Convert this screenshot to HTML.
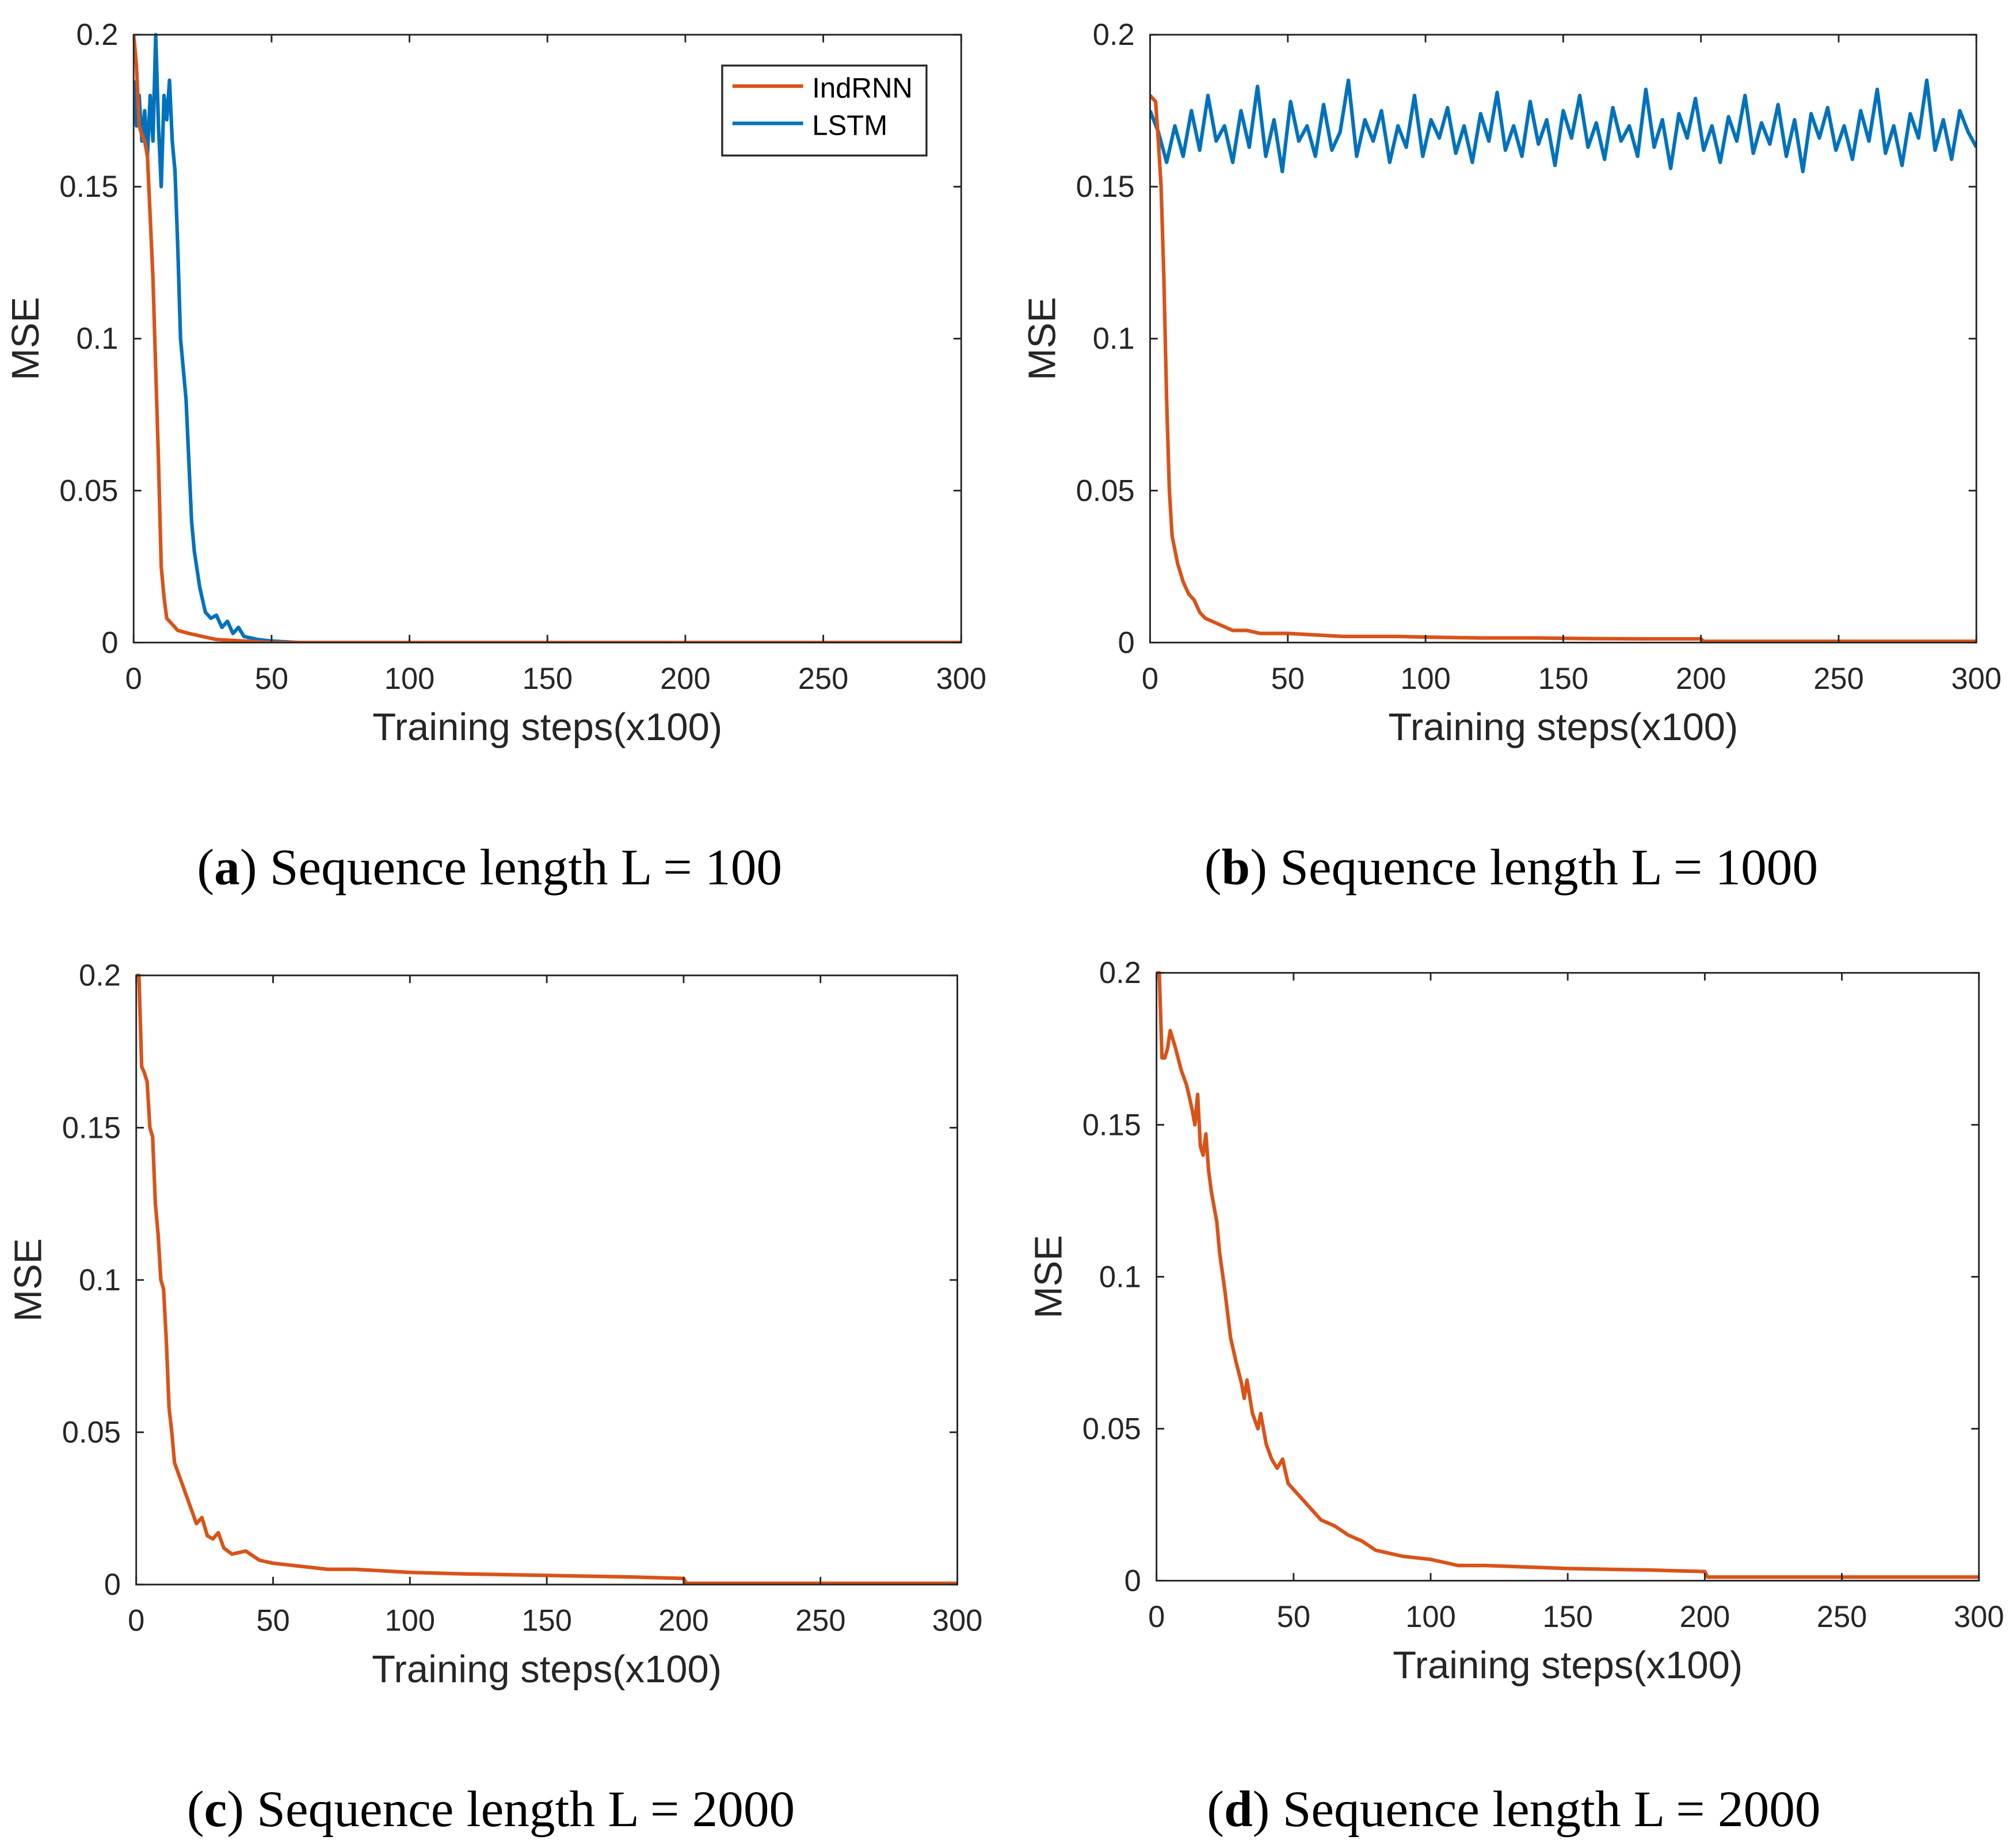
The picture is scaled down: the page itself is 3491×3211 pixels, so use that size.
<!DOCTYPE html>
<html><head><meta charset="utf-8"><style>
html,body{margin:0;padding:0;background:#fff;}
svg{display:block;}
.tick{font-family:"Liberation Sans",sans-serif;font-size:23.5px;fill:#262626;}
.ttl{font-family:"Liberation Sans",sans-serif;font-size:30px;fill:#262626;}
.cap{font-family:"Liberation Serif",serif;font-size:40px;fill:#000;}
</style></head><body>
<svg id="fig" width="3491" height="3211" viewBox="0 0 1563.4 1438" xmlns="http://www.w3.org/2000/svg"></svg>
<script>
// ---- data ----
const xTicks=[0,50,100,150,200,250,300];
const yTicks=[0,0.05,0.1,0.15,0.2];
const yTickLabels=["0","0.05","0.1","0.15","0.2"];
const aIndX=[0,1,2,3,4,5,6,7,8,9,10,11,12,14,16,20,25,30,40,50,300];
const aIndY=[0.2,0.19,0.17,0.167,0.165,0.16,0.14,0.12,0.09,0.06,0.025,0.015,0.008,0.006,0.004,0.003,0.002,0.001,0.0005,0,0];
const aLstmX=[0,1,2,3,4,5,6,7,8,9,10,11,12,13,14,15,16,17,18,19,20,21,22,24,26,28,30,32,34,36,38,40,45,50,60,300];
const aLstmY=[0.185,0.17,0.18,0.165,0.175,0.16,0.18,0.165,0.2,0.17,0.15,0.18,0.172,0.185,0.165,0.155,0.13,0.1,0.09,0.08,0.06,0.04,0.03,0.018,0.01,0.008,0.009,0.005,0.007,0.003,0.005,0.002,0.001,0.0005,0,0];
const bLstmY=[0.175,0.168,0.158,0.17,0.16,0.175,0.162,0.18,0.165,0.17,0.158,0.175,0.163,0.183,0.16,0.172,0.155,0.178,0.165,0.17,0.16,0.177,0.162,0.168,0.185,0.16,0.172,0.165,0.175,0.158,0.17,0.163,0.18,0.16,0.172,0.166,0.176,0.161,0.17,0.158,0.174,0.165,0.181,0.162,0.17,0.16,0.178,0.164,0.172,0.157,0.175,0.166,0.18,0.163,0.171,0.159,0.176,0.165,0.17,0.16,0.182,0.163,0.172,0.156,0.174,0.166,0.179,0.162,0.17,0.158,0.173,0.165,0.18,0.161,0.171,0.164,0.177,0.16,0.172,0.155,0.174,0.166,0.176,0.162,0.17,0.159,0.175,0.165,0.182,0.161,0.17,0.157,0.174,0.166,0.185,0.162,0.172,0.159,0.175,0.168,0.163];
const bIndX=[0,2,3,4,5,6,7,8,10,12,14,16,18,20,25,30,35,40,50,60,70,80,90,100,120,140,160,180,200,201,300];
const bIndY=[0.18,0.178,0.165,0.15,0.12,0.08,0.05,0.035,0.026,0.02,0.016,0.014,0.01,0.008,0.006,0.004,0.004,0.003,0.003,0.0025,0.002,0.002,0.002,0.0018,0.0015,0.0015,0.0013,0.0012,0.0012,0.0004,0.0004];
const cIndX=[0,1,2,3,4,5,6,7,8,9,10,11,12,13,14,16,18,20,22,24,26,28,30,32,35,40,45,50,60,70,80,100,120,150,180,200,201,300];
const cIndY=[0.2,0.2,0.17,0.168,0.165,0.15,0.147,0.125,0.115,0.1,0.097,0.08,0.058,0.05,0.04,0.035,0.03,0.025,0.02,0.022,0.016,0.015,0.017,0.012,0.01,0.011,0.008,0.007,0.006,0.005,0.005,0.004,0.0035,0.003,0.0025,0.002,0.0004,0.0004];
const dIndX=[0,1,2,3,4,5,7,9,11,13,14,15,16,17,18,19,20,22,23,25,27,29,31,32,33,35,37,38,40,42,44,46,48,50,55,60,65,70,75,80,90,100,110,120,150,180,200,201,300];
const dIndY=[0.2,0.2,0.172,0.172,0.175,0.181,0.175,0.168,0.163,0.155,0.15,0.16,0.143,0.14,0.147,0.135,0.128,0.118,0.108,0.095,0.08,0.072,0.065,0.06,0.066,0.055,0.05,0.055,0.045,0.04,0.037,0.04,0.032,0.03,0.025,0.02,0.018,0.015,0.013,0.01,0.008,0.007,0.005,0.005,0.004,0.0035,0.003,0.0012,0.0012];

const svg=document.getElementById('fig');
const NS="http://www.w3.org/2000/svg";
function mk(tag,attrs,parent){const e=document.createElementNS(NS,tag);for(const k in attrs)e.setAttribute(k,attrs[k]);(parent||svg).appendChild(e);return e;}
const ORANGE="#D95319",BLUE="#0072BD";

function panel(id,L,T,R,B,series,caption,capX,capY){
  const g=mk('g',{});
  
  
  const sx=v=>L+(v/300)*(R-L), sy=v=>B-(v/0.2)*(B-T);
  const cp=mk('clipPath',{id:'clip'+id},g); mk('rect',{x:L,y:T-2,width:R-L,height:B-T+2},cp);
  series.forEach(s=>{
    const d=s.x.map((xv,i)=>(i?'L':'M')+sx(xv).toFixed(2)+','+sy(Math.min(s.y[i],0.21)).toFixed(2)).join('');
    const p=mk('path',{d:d,fill:'none',stroke:s.c,'stroke-width':2.8,'stroke-linejoin':'round','clip-path':'url(#clip'+id+')'},g);
    
    
  });
  const box=mk('rect',{x:L,y:T,width:R-L,height:B-T,fill:'none',stroke:'#262626','stroke-width':1.3},g);
  
  
  xTicks.forEach(v=>{
    const x=sx(v);
    mk('line',{x1:x,y1:B,x2:x,y2:B-6,stroke:'#262626','stroke-width':1.3},g);
    mk('line',{x1:x,y1:T,x2:x,y2:T+6,stroke:'#262626','stroke-width':1.3},g);
    const t=mk('text',{x:x,y:B+36,'text-anchor':'middle',class:'tick'},g);t.textContent=v;
    
    
  });
  yTicks.forEach((v,i)=>{
    const y=sy(v);
    mk('line',{x1:L,y1:y,x2:L+6,y2:y,stroke:'#262626','stroke-width':1.3},g);
    mk('line',{x1:R,y1:y,x2:R-6,y2:y,stroke:'#262626','stroke-width':1.3},g);
    const t=mk('text',{x:L-12,y:y+8,'text-anchor':'end',class:'tick'},g);t.textContent=yTickLabels[i];
    
    
  });
  const xt=mk('text',{x:(L+R)/2,y:B+76,'text-anchor':'middle',class:'ttl'},g);xt.textContent='Training steps(x100)';
  
  
  const yt=mk('text',{x:0,y:0,'text-anchor':'middle',class:'ttl',transform:'translate('+(L-74)+','+((T+B)/2)+') rotate(-90)'},g);yt.textContent='MSE';
  
  
  const c=mk('text',{x:capX,y:capY,'text-anchor':'middle',class:'cap'},g);
  c.innerHTML='(<tspan font-weight="bold">'+id+'</tspan>) '+caption;
  
  
}
panel('a',104,27,748,500,[{x:aLstmX,y:aLstmY,c:BLUE,n:'lstm'},{x:aIndX,y:aIndY,c:ORANGE,n:'indrnn'}],'Sequence length L = 100',381,688);
const bLstmX=bLstmY.map((_,i)=>i*3);
panel('b',895,27,1538,500,[{x:bLstmX,y:bLstmY,c:BLUE,n:'lstm'},{x:bIndX,y:bIndY,c:ORANGE,n:'indrnn'}],'Sequence length L = 1000',1176,688);
panel('c',106,759,745,1233,[{x:cIndX,y:cIndY,c:ORANGE,n:'indrnn'}],'Sequence length L = 2000',382,1421);
panel('d',900,757,1540,1230,[{x:dIndX,y:dIndY,c:ORANGE,n:'indrnn'}],'Sequence length L = 2000',1178,1421);

// legend
const lg=mk('g',{});


mk('rect',{x:562,y:51,width:159,height:70,fill:'#fff',stroke:'#262626','stroke-width':1.5},lg);
const items=[['IndRNN',ORANGE,75],['LSTM',BLUE,104]];
items.forEach(it=>{
  const e=mk('g',{},lg);
  
  
  mk('line',{x1:570,y1:it[2]-8,x2:625,y2:it[2]-8,stroke:it[1],'stroke-width':2.8},e);
  const t=mk('text',{x:632,y:it[2]+1,class:'tick',style:'fill:#000;font-size:22px'},e);t.textContent=it[0];
});
</script>
</body></html>
